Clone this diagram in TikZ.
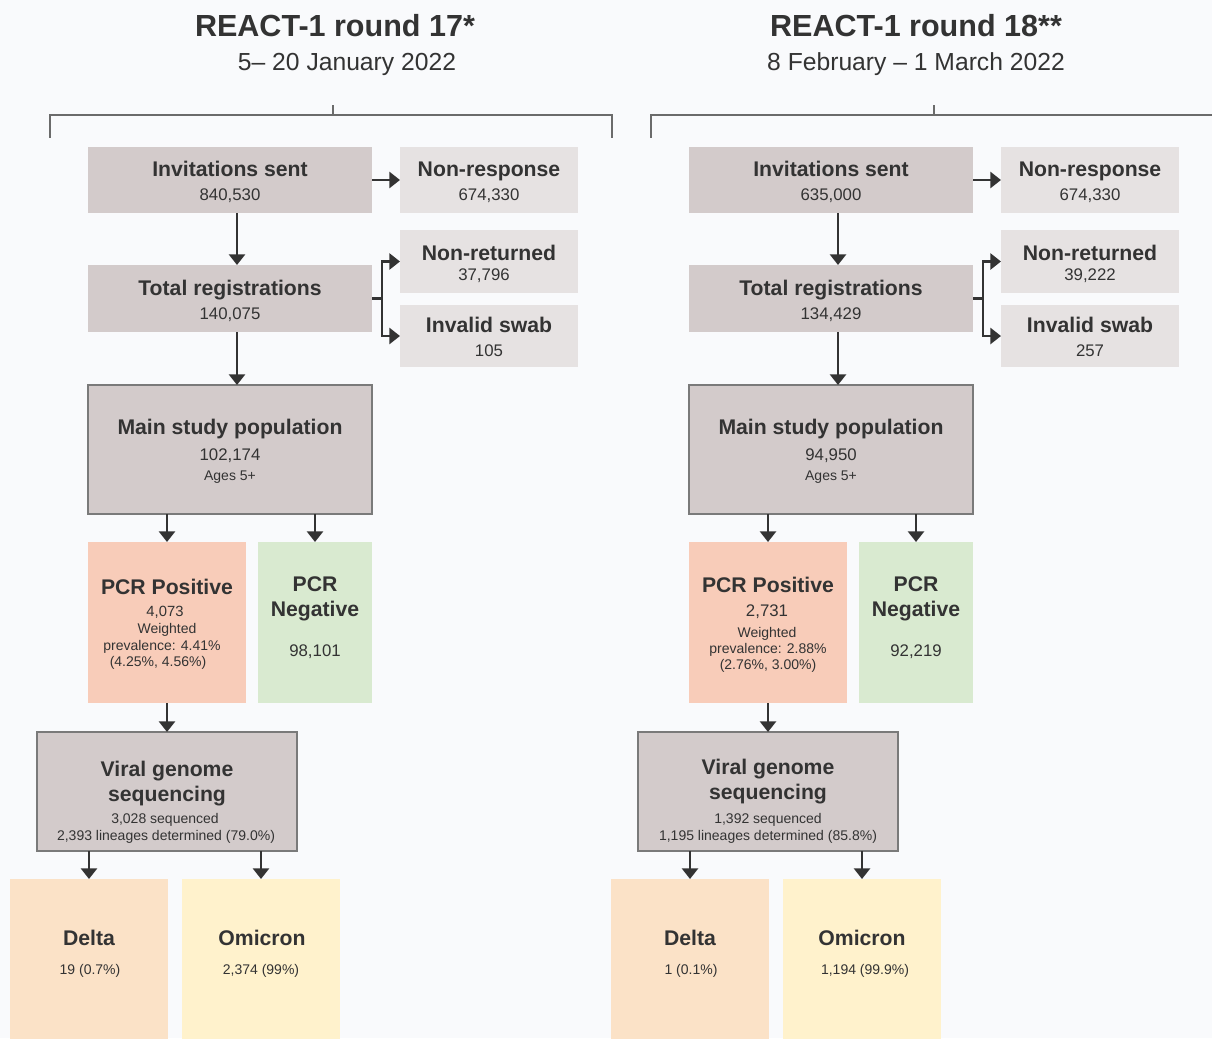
\documentclass[tikz,border=0pt]{standalone}
\usepackage{fontspec}
\setmainfont{Liberation Sans}
\usetikzlibrary{arrows.meta,calc}
\definecolor{bg}{HTML}{F9FAFC}
\definecolor{taupe}{HTML}{D3CBCB}
\definecolor{lgray}{HTML}{E6E2E2}
\definecolor{salmon}{HTML}{F8CCB9}
\definecolor{lgreen}{HTML}{D9EAD0}
\definecolor{deltac}{HTML}{FBE2C7}
\definecolor{omic}{HTML}{FFF2CC}
\definecolor{txt}{HTML}{333333}
\definecolor{arrc}{HTML}{333333}
\definecolor{brkc}{HTML}{6B6B6B}
\definecolor{bordc}{HTML}{7A7A7A}
\newcommand\bx[6]{\node[box,#6,minimum width={(#4-#2)*0.75pt},minimum height={(#5-#3)*0.75pt}] (#1) at ({(#2+#4)/2},{(#3+#5)/2}) {};}
\begin{document}
\begin{tikzpicture}[x=0.75pt,y=-0.75pt,
  box/.style={rectangle,inner sep=0pt,outer sep=0pt},
  bxline/.style={draw=bordc,line width=0.8pt},
  tx/.style={anchor=base,inner sep=0pt,text=txt,align=center},
  ttl/.style={tx,font=\fontsize{22.9}{27}\selectfont\bfseries},
  subttl/.style={tx,font=\fontsize{18.5}{22}\selectfont},
  hd/.style={tx,font=\fontsize{15.9}{18}\selectfont\bfseries},
  numtx/.style={tx,font=\fontsize{12.6}{15}\selectfont},
  midtx/.style={tx,font=\fontsize{11.1}{13}\selectfont},
  smtx/.style={tx,font=\fontsize{10.5}{12.5}\selectfont},
  arr/.style={draw=arrc,line width=2pt,-{Triangle[width=12pt,length=8pt]}},
  brk/.style={draw=brkc,line width=1.1pt}]
\fill[bg] (0,0) rectangle (1212,1038);
\useasboundingbox (0,0) rectangle (1212,1038);

% ---------------- left panel boxes
\bx{L-inv}{88}{147}{372}{213}{fill=taupe}
\bx{L-nres}{400}{147}{578}{213}{fill=lgray}
\bx{L-reg}{88}{265}{372}{332}{fill=taupe}
\bx{L-nret}{400}{230}{578}{293}{fill=lgray}
\bx{L-isw}{400}{305}{578}{367}{fill=lgray}
\bx{L-main}{88}{385}{372}{514}{fill=taupe,bxline}
\bx{L-pos}{88}{542}{246}{703}{fill=salmon}
\bx{L-neg}{258}{542}{372}{703}{fill=lgreen}
\bx{L-seq}{37}{732}{297}{851}{fill=taupe,bxline}
\bx{L-del}{10}{879}{168}{1042}{fill=deltac}
\bx{L-omi}{182}{879}{340}{1042}{fill=omic}

% ---------------- right panel boxes
\bx{R-inv}{689}{147}{973}{213}{fill=taupe}
\bx{R-nres}{1001}{147}{1179}{213}{fill=lgray}
\bx{R-reg}{689}{265}{973}{332}{fill=taupe}
\bx{R-nret}{1001}{230}{1179}{293}{fill=lgray}
\bx{R-isw}{1001}{305}{1179}{367}{fill=lgray}
\bx{R-main}{689}{385}{973}{514}{fill=taupe,bxline}
\bx{R-pos}{689}{542}{847}{703}{fill=salmon}
\bx{R-neg}{859}{542}{973}{703}{fill=lgreen}
\bx{R-seq}{638}{732}{898}{851}{fill=taupe,bxline}
\bx{R-del}{611}{879}{769}{1042}{fill=deltac}
\bx{R-omi}{783}{879}{941}{1042}{fill=omic}

% ---------------- brackets
\draw[brk] (50,138) -- (50,115) -- (612,115) -- (612,138);
\draw[brk] (333,115) -- (333,105);
\draw[brk] (651,138) -- (651,115) -- (1214,115);
\draw[brk] (934,115) -- (934,105);

% ---------------- connectors
\foreach \p in {L,R}{
  \draw[arr] (\p-inv.east) -- (\p-nres.west);
  \draw[arr] ([xshift=5.25pt]\p-inv.south) -- ([xshift=5.25pt]\p-reg.north);
  \draw[arr] (\p-reg.east) -- ++(10,0) |- (\p-nret.west);
  \draw[arr] (\p-reg.east) -- ++(10,0) |- (\p-isw.west);
  \draw[arr] ([xshift=5.25pt]\p-reg.south) -- ([xshift=5.25pt]\p-main.north);
  \draw[arr] (\p-main.south -| \p-pos.north) -- (\p-pos.north);
  \draw[arr] (\p-main.south -| \p-neg.north) -- (\p-neg.north);
  \draw[arr] (\p-pos.south) -- (\p-seq.north);
  \draw[arr] (\p-seq.south -| \p-del.north) -- (\p-del.north);
  \draw[arr] (\p-seq.south -| \p-omi.north) -- (\p-omi.north);
}

% ---------------- left texts
\node[ttl] (L-title) at (335,37) {REACT-1 round 17*};
\node[subttl] (L-date) at (347,71) {5– 20 January 2022};
\node[hd] (L-inv-h) at (230,176) {Invitations sent};
\node[numtx] (L-inv-n) at (230,200) {840,530};
\node[hd] (L-nres-h) at (489,176) {Non-response};
\node[numtx] (L-nres-n) at (489,200) {674,330};
\node[hd] (L-reg-h) at (230,295) {Total registrations};
\node[numtx] (L-reg-n) at (230,319) {140,075};
\node[hd] (L-nret-h) at (489,260) {Non-returned};
\node[numtx] (L-nret-n) at (484,280) {37,796};
\node[hd] (L-isw-h) at (489,332) {Invalid swab};
\node[numtx] (L-isw-n) at (489,356) {105};
\node[hd] (L-main-h) at (230,434) {Main study population};
\node[numtx] (L-main-n) at (230,460) {102,174};
\node[smtx] (L-main-a) at (230,480) {Ages 5+};
\node[hd] (L-pos-h) at (167,594) {PCR Positive};
\node[midtx] (L-pos-n) at (165,616) {4,073};
\node[smtx] (L-pos-w) at (167,633) {Weighted};
\node[smtx] (L-pos-p) at (162,650) {prevalence: 4.41\%};
\node[smtx] (L-pos-c) at (158,666) {(4.25\%, 4.56\%)};
\node[hd] (L-neg-h1) at (315,591) {PCR};
\node[hd] (L-neg-h2) at (315,616) {Negative};
\node[numtx] (L-neg-n) at (315,656) {98,101};
\node[hd] (L-seq-h1) at (167,776) {Viral genome};
\node[hd] (L-seq-h2) at (167,801) {sequencing};
\node[smtx] (L-seq-s) at (165,823) {3,028 sequenced};
\node[smtx] (L-seq-l) at (166,840) {2,393 lineages determined (79.0\%)};
\node[hd] (L-del-h) at (89,945) {Delta};
\node[smtx] (L-del-n) at (90,974) {19 (0.7\%)};
\node[hd] (L-omi-h) at (262,945) {Omicron};
\node[smtx] (L-omi-n) at (261,974) {2,374 (99\%)};

% ---------------- right texts
\node[ttl] (R-title) at (916,37) {REACT-1 round 18**};
\node[subttl] (R-date) at (916,71) {8 February – 1 March 2022};
\node[hd] (R-inv-h) at (831,176) {Invitations sent};
\node[numtx] (R-inv-n) at (831,200) {635,000};
\node[hd] (R-nres-h) at (1090,176) {Non-response};
\node[numtx] (R-nres-n) at (1090,200) {674,330};
\node[hd] (R-reg-h) at (831,295) {Total registrations};
\node[numtx] (R-reg-n) at (831,319) {134,429};
\node[hd] (R-nret-h) at (1090,260) {Non-returned};
\node[numtx] (R-nret-n) at (1090,280) {39,222};
\node[hd] (R-isw-h) at (1090,332) {Invalid swab};
\node[numtx] (R-isw-n) at (1090,356) {257};
\node[hd] (R-main-h) at (831,434) {Main study population};
\node[numtx] (R-main-n) at (831,460) {94,950};
\node[smtx] (R-main-a) at (831,480) {Ages 5+};
\node[hd] (R-pos-h) at (768,592) {PCR Positive};
\node[numtx] (R-pos-n) at (767,616) {2,731};
\node[smtx] (R-pos-w) at (767,637) {Weighted};
\node[smtx] (R-pos-p) at (768,653) {prevalence: 2.88\%};
\node[smtx] (R-pos-c) at (768,669) {(2.76\%, 3.00\%)};
\node[hd] (R-neg-h1) at (916,591) {PCR};
\node[hd] (R-neg-h2) at (916,616) {Negative};
\node[numtx] (R-neg-n) at (916,656) {92,219};
\node[hd] (R-seq-h1) at (768,774) {Viral genome};
\node[hd] (R-seq-h2) at (768,799) {sequencing};
\node[smtx] (R-seq-s) at (768,823) {1,392 sequenced};
\node[smtx] (R-seq-l) at (768,840) {1,195 lineages determined (85.8\%)};
\node[hd] (R-del-h) at (690,945) {Delta};
\node[smtx] (R-del-n) at (691,974) {1 (0.1\%)};
\node[hd] (R-omi-h) at (862,945) {Omicron};
\node[smtx] (R-omi-n) at (865,974) {1,194 (99.9\%)};
\end{tikzpicture}
\end{document}
